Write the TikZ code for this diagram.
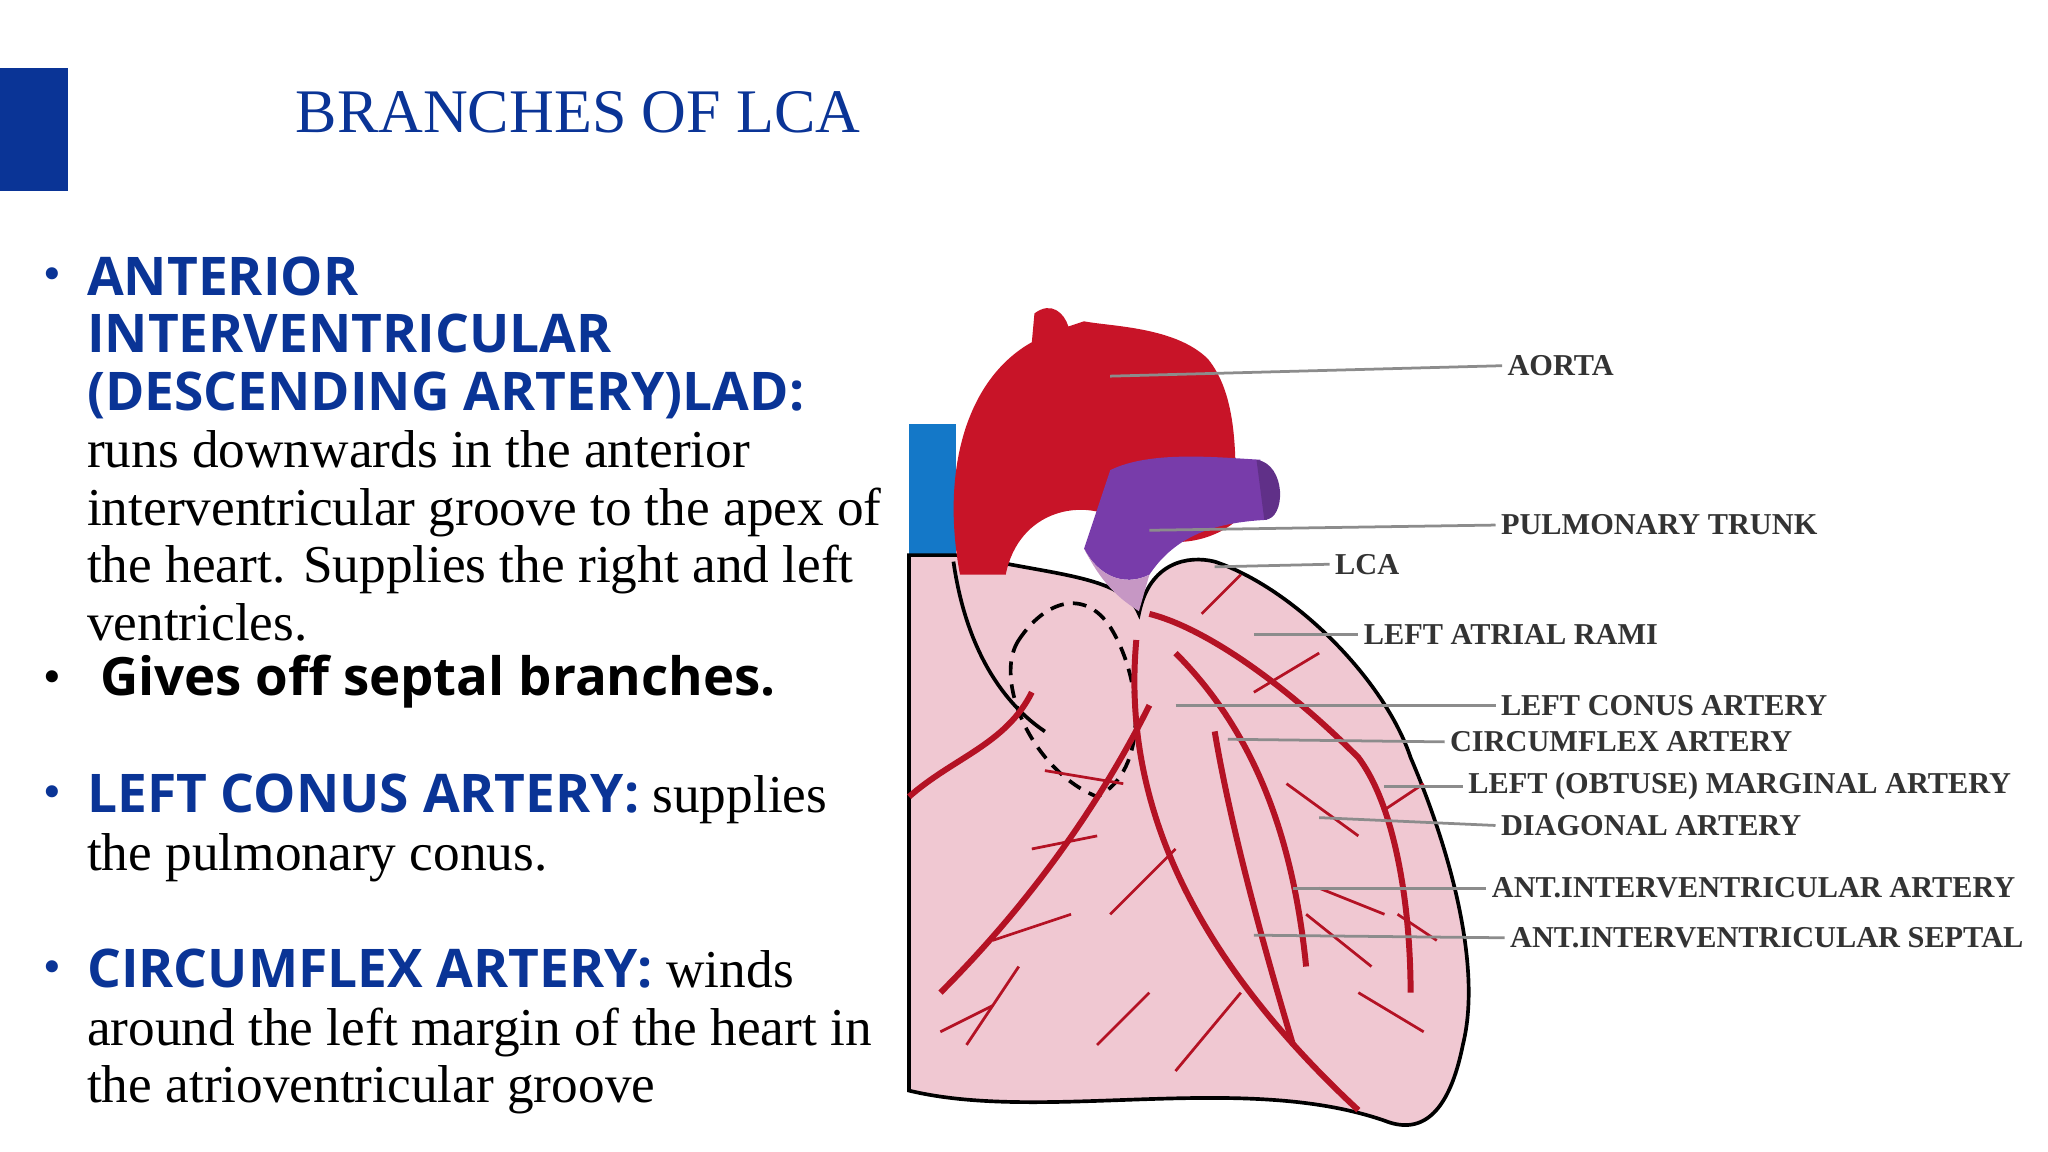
\documentclass[tikz,border=0pt]{standalone}
\usepackage{fontspec}
\setmainfont{Liberation Serif}
\setsansfont{Open Sans}[BoldFont={* Bold}]
\usetikzlibrary{positioning}
\definecolor{navy}{RGB}{10,52,150}
\definecolor{aortared}{RGB}{200,20,40}
\definecolor{pulm}{RGB}{120,60,170}
\definecolor{heartpink}{RGB}{240,200,210}
\definecolor{vein}{RGB}{20,120,200}
\tikzset{
  body/.style={font=\fontsize{11.6}{12.5}\selectfont, align=left, anchor=north west, inner sep=0pt},
  bullet/.style={font=\fontsize{11}{12}\selectfont, text=navy, inner sep=0pt},
  lab/.style={font=\bfseries\fontsize{6.6}{7}\selectfont, text=black!80, anchor=west, inner sep=1pt},
  lead/.style={draw=black!45, line width=0.6pt},
  artery/.style={draw=aortared!90!black, line width=1.3pt},
  twig/.style={draw=aortared!90!black, line width=0.6pt}
}
\newcommand{\keyword}[1]{{\sffamily\bfseries\fontsize{11.6}{12.5}\selectfont\color{navy}#1}}
\begin{document}
\begin{tikzpicture}[x=0.01cm, y=-0.01cm]
\useasboundingbox (0,0) rectangle (1568,882);
% title bar
\fill[navy] (0,52) rectangle (52,146);
\node[font=\fontsize{13.5}{14}\selectfont, text=navy, anchor=west] (title) at (214,86) {BRANCHES OF LCA};
% text column
\node[bullet] (b1) at (40,214) {•};
\node[body] (t1) at (66,196) {\keyword{ANTERIOR}\\ \keyword{INTERVENTRICULAR}\\ \keyword{(DESCENDING ARTERY)LAD:}\\ runs downwards in the anterior\\ interventricular groove to the apex of\\ the heart. Supplies the right and left\\ ventricles.};
\node[bullet, text=black] (b2) at (40,522) {•};
\node[font=\sffamily\bfseries\fontsize{11.5}{12}\selectfont, anchor=west, inner sep=0pt] (t2) at (76,522) {Gives off septal branches.};
\node[bullet] (b3) at (40,610) {•};
\node[body] (t3) at (66,592) {\keyword{LEFT CONUS ARTERY:} supplies\\ the pulmonary conus.};
\node[bullet] (b4) at (40,744) {•};
\node[body] (t4) at (66,726) {\keyword{CIRCUMFLEX ARTERY:} winds\\ around the left margin of the heart in\\ the atrioventricular groove};
% heart
\fill[vein] (696,325) rectangle (732,425);
\fill[heartpink, draw=black, line width=0.8pt] (696,425) -- (740,425) .. controls (800,440) and (860,440) .. (872,470)
  .. controls (880,430) and (910,425) .. (930,430) .. controls (990,450) and (1060,520) .. (1080,580)
  .. controls (1110,650) and (1135,740) .. (1120,800) .. controls (1110,850) and (1090,870) .. (1060,858)
  .. controls (950,820) and (800,860) .. (696,835) -- cycle;
\fill[aortared] (735,440) .. controls (720,360) and (740,290) .. (790,262) -- (792,240)
  .. controls (805,230) and (815,240) .. (818,250) -- (830,246) .. controls (850,250) and (900,250) .. (925,275)
  .. controls (945,300) and (948,340) .. (945,400)
  .. controls (920,420) and (880,420) .. (860,400) .. controls (830,380) and (780,390) .. (770,440) -- cycle;
\fill[pulm] (850,360) .. controls (880,345) and (930,350) .. (965,352) -- (970,398)
  .. controls (930,400) and (900,410) .. (880,440) .. controls (860,450) and (840,440) .. (830,420) -- cycle;
\fill[pulm!80!black] (962,352) .. controls (985,355) and (985,398) .. (968,398) -- cycle;
\fill[pulm!35!heartpink] (830,420) .. controls (845,450) and (860,460) .. (872,468) -- (880,440) .. controls (860,450) and (840,440) .. (830,420);
% dashed conus outline
\draw[densely dashed, line width=0.8pt] (780,490) .. controls (760,520) and (790,590) .. (840,610)
  .. controls (880,590) and (875,520) .. (850,480) .. controls (830,450) and (800,460) .. (780,490);
\draw[line width=0.8pt] (730,430) .. controls (740,500) and (770,540) .. (800,560);
% arteries
\draw[artery] (880,470) .. controls (920,480) and (980,520) .. (1040,580) .. controls (1070,620) and (1080,700) .. (1080,760);
\draw[artery] (870,490) .. controls (860,600) and (900,720) .. (1040,850);
\draw[artery] (900,500) .. controls (960,560) and (990,640) .. (1000,740);
\draw[artery] (880,540) .. controls (850,600) and (800,680) .. (720,760);
\draw[artery] (930,560) .. controls (940,620) and (960,700) .. (990,800);
\foreach \xa/\ya/\xb/\yb in {960/530/1010/500, 985/600/1040/640, 1010/680/1060/700, 900/650/850/700,
  820/700/760/720, 780/740/740/800, 1040/760/1090/790, 950/760/900/820, 860/600/800/590, 920/470/950/440,
  1060/620/1090/600, 1000/700/1050/740, 840/640/790/650, 760/770/720/790, 880/760/840/800, 1070/700/1100/720}
  \draw[twig] (\xa,\ya) -- (\xb,\yb);
\draw[artery] (696,610) .. controls (730,580) and (770,570) .. (790,530);
% labels
\node[lab] (aorta) at (1150,280) {AORTA};
\node[lab] (pt) at (1145,402) {PULMONARY TRUNK};
\node[lab] (lca) at (1018,432) {LCA};
\node[lab] (lar) at (1040,486) {LEFT ATRIAL RAMI};
\node[lab] (lconus) at (1145,540) {LEFT CONUS ARTERY};
\node[lab] (circ) at (1106,568) {CIRCUMFLEX ARTERY};
\node[lab] (marg) at (1120,602) {LEFT (OBTUSE) MARGINAL ARTERY};
\node[lab] (diag) at (1145,632) {DIAGONAL ARTERY};
\node[lab] (aiv) at (1138,680) {ANT.INTERVENTRICULAR ARTERY};
\node[lab] (aivs) at (1152,718) {ANT.INTERVENTRICULAR SEPTAL};
\coordinate (pA) at (850,288); \coordinate (pP) at (880,406); \coordinate (pL) at (930,434);
\coordinate (pR) at (960,486); \coordinate (pC) at (900,540); \coordinate (pX) at (940,566);
\coordinate (pM) at (1060,602); \coordinate (pD) at (1010,626); \coordinate (pI) at (990,680);
\coordinate (pS) at (960,716);
\foreach \p/\n in {pA/aorta,pP/pt,pL/lca,pR/lar,pC/lconus,pX/circ,pM/marg,pD/diag,pI/aiv,pS/aivs}
  \draw[lead] (\p) -- (\n.west);
\end{tikzpicture}
\end{document}
